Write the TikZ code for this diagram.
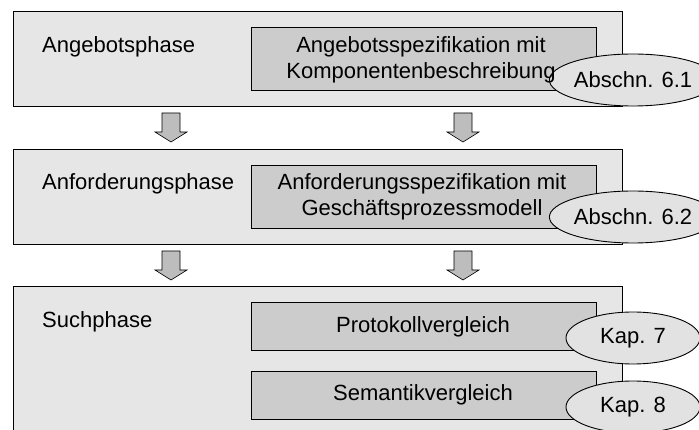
\documentclass[tikz,border=0pt]{standalone}
\usepackage{fontspec}
\setmainfont{Liberation Sans}
\usetikzlibrary{shapes.geometric}
\definecolor{phasefill}{HTML}{E6E6E6}
\definecolor{docfill}{HTML}{CCCCCC}
\definecolor{reffill}{HTML}{E2E2E2}
\definecolor{arrowfill}{HTML}{BDBDBD}
\begin{document}
\begin{tikzpicture}[x=1pt,y=-1pt,
  every node/.style={font=\fontsize{22}{26.5}\selectfont, inner sep=0pt},
  phasebox/.style={draw=black, fill=phasefill, line width=0.9pt},
  docbox/.style={draw=black, fill=docfill, line width=0.9pt, align=center},
  refell/.style={draw=black, fill=reffill, ellipse, line width=0.9pt, minimum width=134pt, minimum height=52pt},
  flowarrow/.style={draw=black, fill=arrowfill, line width=0.6pt}]
\useasboundingbox (0,0) rectangle (699,430);
\clip (0,0) rectangle (699,430);

% phase frames
\node[phasebox, minimum width=609pt, minimum height=95pt, anchor=north west] (p1) at (13,11) {};
\node[phasebox, minimum width=609pt, minimum height=95pt, anchor=north west] (p2) at (13,149) {};
\node[phasebox, minimum width=609pt, minimum height=160pt, anchor=north west] (p3) at (13,286) {};

% phase titles
\node[anchor=west] (t1) at (42,47) {Angebotsphase};
\node[anchor=west] (t2) at (42,184) {Anforderungsphase};
\node[anchor=west] (t3) at (42,322) {Suchphase};

% documents / activities
\node[docbox, minimum width=345pt, minimum height=63pt, anchor=north west] (d1) at (251,27) {};
\node[docbox, minimum width=345pt, minimum height=63pt, anchor=north west] (d2) at (251,165) {};
\node[docbox, minimum width=345pt, minimum height=48pt, anchor=north west] (d3) at (251,302) {};
\node[docbox, minimum width=345pt, minimum height=48pt, anchor=north west] (d4) at (251,371) {};

% section references
\node[refell] (r1) at (633,80) {Abschn. 6.1};
\node[refell] (r2) at (633,217) {Abschn. 6.2};
\node[refell] (r3) at (633,338) {Kap. 7};
\node[refell] (r4) at (633,407) {Kap. 8};

% document texts
\node (d1t) at (421,60) [align=center] {Angebotsspezifikation mit\\Komponentenbeschreibung};
\node (d2t) at (422,197) [align=center] {Anforderungsspezifikation mit\\Geschäftsprozessmodell};
\node (d3t) at (423,327) {Protokollvergleich};
\node (d4t) at (423,395) {Semantikvergleich};

% block arrows between phases
\foreach \cx/\ty in {171/113, 463/113, 171/251, 463/251}{
  \draw[flowarrow] (\cx-9,\ty) -- (\cx+9,\ty) -- (\cx+9,\ty+19) -- (\cx+16,\ty+19)
    -- (\cx,\ty+29) -- (\cx-16,\ty+19) -- (\cx-9,\ty+19) -- cycle;
}
\end{tikzpicture}
\end{document}
